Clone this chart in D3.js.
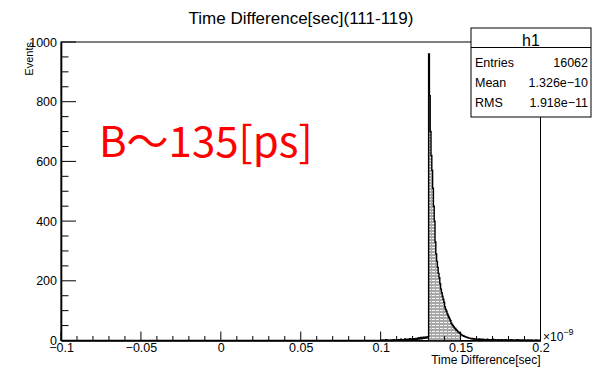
<!DOCTYPE html>
<html>
<head>
<meta charset="utf-8">
<script src="https://cdn.jsdelivr.net/npm/d3@7"></script>
<style>
  html, body { margin: 0; padding: 0; background: #fff; }
  svg { display: block; }
  text { font-family: "Liberation Sans", Arial, sans-serif; fill: #000; }
</style>
</head>
<body>
<svg id="chart" width="594" height="369"></svg>
<script>
// ---- data ----
const title = "Time Difference[sec](111-119)";
const xTitle = "Time Difference[sec]";
const yTitle = "Events";
const xTicks = [-0.1, -0.05, 0, 0.05, 0.1, 0.15, 0.2];
const xTickLabels = ["\u22120.1", "\u22120.05", "0", "0.05", "0.1", "0.15", "0.2"];
const yTicks = [0, 200, 400, 600, 800, 1000];
const binStart = 0.100;     // (x10^-9 sec)
const binWidth = 0.0005;
const countsPre = [1,0,2,1,0,1,3,1,0,2, 1,1,0,2,1,0,3,1,2,1,
  2,1,3,2,1,4,2,3,1,2, 5,3,2,4,3,2,6,3,4,5,
  4,6,3,5,7,4,6,9,5,7, 10,6,8,11,7,9,12,8,10,13];
const countsPeak = [960,820,700,620,570,510,450,400,330,290,
  265,245,225,210,190,172,160,148,138,128,
  112,104,98,90,84,78,72,66,58,54,
  50,46,42,40,36,34,30,28,26,24,
  20,19,17,16,14,13,12,11,10,9,
  8,8,7,6,7,5,6,5,4,5,4];
const countsTail = [4,3,5,3,4,2,3,4,2,3, 3,2,4,2,3,1,2,3,2,4, 2,1,3,2,2,1,3,2,1,2,
  3,1,2,2,1,3,1,2,1,2, 2,1,3,1,2,1,1,2,1,2, 3,1,1,2,1,0,2,1,1,2,
  1,0,1,2,1,1,0,2,1,1, 0,1,1,2,0,1,1,0,1];
const fillRange = [0.130, 0.150];
const statsName = "h1";
const statsLabels = ["Entries", "Mean", "RMS"];
const statsValues = ["16062", "1.326e\u221210", "1.918e\u221211"];
const annotation = "B\uFF5E135[ps]";

// ---- build ----
const counts = countsPre.concat(countsPeak, countsTail);
const bins = counts.map((c, i) => ({x0: binStart + i * binWidth, x1: binStart + (i + 1) * binWidth, c}));

const svg = d3.select("#chart");
const L = 61, R = 540.5, T = 42, B = 340.5;
const x = d3.scaleLinear().domain([-0.1, 0.2]).range([L, R]);
const y = d3.scaleLinear().domain([0, 1000]).range([B, T]);

// pattern
const defs = svg.append("defs");
const pat = defs.append("pattern").attr("id", "hatch").attr("patternUnits", "userSpaceOnUse")
  .attr("width", 4).attr("height", 3);
pat.append("rect").attr("width", 4).attr("height", 3).attr("fill", "#a8a8a8");
pat.append("rect").attr("x", 0).attr("y", 1).attr("width", 3).attr("height", 1).attr("fill", "#f4f4f4");

// frame
svg.append("rect").attr("x", L).attr("y", T).attr("width", R - L).attr("height", B - T)
  .attr("fill", "none").attr("stroke", "#000").attr("stroke-width", 1);

// filled region
const fillBins = bins.filter(b => b.x0 >= fillRange[0] - 1e-9 && b.x1 <= fillRange[1] + 1e-9);
let fp = `M${x(fillBins[0].x0)},${y(0)}`;
fillBins.forEach(b => { fp += `L${x(b.x0)},${y(b.c)}L${x(b.x1)},${y(b.c)}`; });
fp += `L${x(fillBins[fillBins.length - 1].x1)},${y(0)}Z`;
svg.append("path").attr("d", fp).attr("fill", "url(#hatch)").attr("stroke", "none");
svg.append("line").attr("x1", x(fillRange[0])).attr("x2", x(fillRange[0]))
  .attr("y1", y(0)).attr("y2", y(fillBins[0].c)).attr("stroke", "#777").attr("stroke-width", 1);

// histogram outline
let hp = `M${x(-0.1)},${y(0)}L${x(binStart)},${y(0)}`;
bins.forEach(b => { hp += `L${x(b.x0)},${y(b.c)}L${x(b.x1)},${y(b.c)}`; });
svg.append("path").attr("d", hp).attr("fill", "none").attr("stroke", "#000").attr("stroke-width", 1.4);

// axes (ticks inside frame)
const xMinor = d3.range(-0.1, 0.2001, 0.01);
svg.append("g").selectAll("line").data(xMinor).join("line")
  .attr("x1", d => x(d)).attr("x2", d => x(d))
  .attr("y1", B).attr("y2", d => B - (xTicks.some(t => Math.abs(t - d) < 1e-6) ? 9 : 4.5))
  .attr("stroke", "#000").attr("stroke-width", 1);
const yMinor = d3.range(0, 1001, 50);
svg.append("g").selectAll("line").data(yMinor).join("line")
  .attr("x1", L).attr("x2", d => L + (yTicks.includes(d) ? 15 : 7.5))
  .attr("y1", d => y(d)).attr("y2", d => y(d))
  .attr("stroke", "#000").attr("stroke-width", 1);

const xAxis = d3.axisBottom(x).tickValues(xTicks).tickSize(0).tickPadding(3)
  .tickFormat((d, i) => xTickLabels[i]);
const gx = svg.append("g").attr("transform", `translate(0,${B})`).call(xAxis);
gx.select(".domain").attr("stroke", "#000").attr("stroke-width", 1.6);
gx.selectAll("text").attr("font-size", 12.5).attr("font-family", "Liberation Sans, Arial, sans-serif").attr("dy", "0.71em");

const yAxis = d3.axisLeft(y).tickValues(yTicks).tickSize(0).tickPadding(4).tickFormat(d3.format("d"));
const gy = svg.append("g").attr("transform", `translate(${L},0)`).call(yAxis);
gy.select(".domain").attr("stroke", "#000").attr("stroke-width", 1.6);
gy.selectAll("text").attr("font-size", 12.5).attr("font-family", "Liberation Sans, Arial, sans-serif");

// titles
svg.append("text").attr("x", 301).attr("y", 23.5).attr("text-anchor", "middle")
  .attr("font-size", 17).text(title);
svg.append("text").attr("x", R).attr("y", 364).attr("text-anchor", "end")
  .attr("font-size", 12).text(xTitle);
svg.append("text").attr("transform", `translate(33,${T}) rotate(-90)`).attr("text-anchor", "end")
  .attr("font-size", 11).text(yTitle);
const exp = svg.append("text").attr("x", 543).attr("y", 341).attr("font-size", 12);
exp.append("tspan").text("\u00D710");
exp.append("tspan").attr("dy", -6).attr("font-size", 9).text("\u22129");

// stats box
const sbX = 471, sbY = 28, sbW = 120, sbH = 89, sbSep = 47.5;
svg.append("rect").attr("x", sbX).attr("y", sbY).attr("width", sbW).attr("height", sbH)
  .attr("fill", "#fff").attr("stroke", "#000").attr("stroke-width", 1);
svg.append("line").attr("x1", sbX).attr("x2", sbX + sbW).attr("y1", sbSep).attr("y2", sbSep)
  .attr("stroke", "#000").attr("stroke-width", 1);
svg.append("text").attr("x", sbX + sbW / 2).attr("y", 45.5).attr("text-anchor", "middle")
  .attr("font-size", 16).text(statsName);
statsLabels.forEach((lab, i) => {
  const yy = 66.5 + i * 20.3;
  svg.append("text").attr("x", 475).attr("y", yy).attr("font-size", 12.5).text(lab);
  svg.append("text").attr("x", 588).attr("y", yy).attr("text-anchor", "end").attr("font-size", 12.5).text(statsValues[i]);
});

// annotation
svg.append("text").attr("x", 99).attr("y", 157).attr("font-size", 42)
  .style("font-family", "'Noto Sans CJK JP', 'Noto Sans', sans-serif").style("fill", "#ff0000")
  .text(annotation);
</script>
</body>
</html>
